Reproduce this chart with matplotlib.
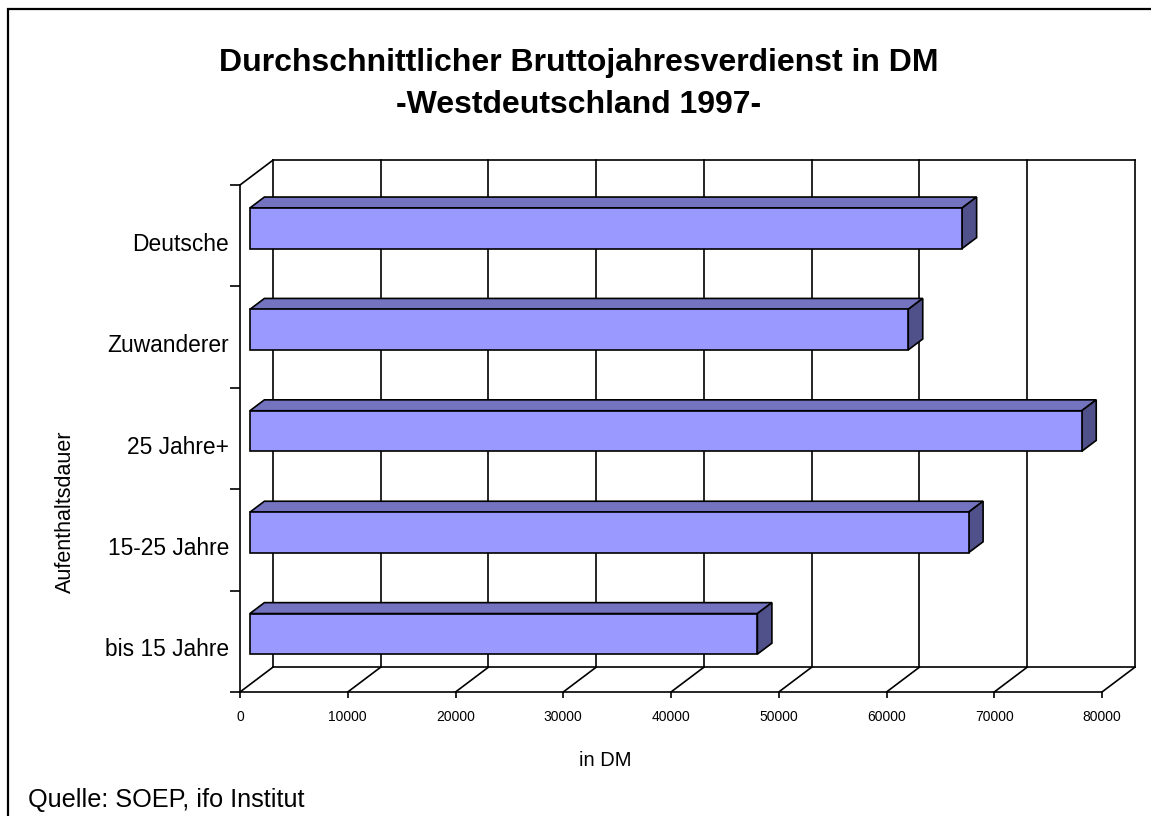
import matplotlib
matplotlib.use("Agg")
import matplotlib.pyplot as plt
from matplotlib.patches import Polygon, Rectangle
from matplotlib.lines import Line2D

plt.rcParams['font.family'] = ['Liberation Sans', 'DejaVu Sans']

# ---- data ----
categories = ["bis 15 Jahre", "15-25 Jahre", "25 Jahre+", "Zuwanderer", "Deutsche"]
values = [47100, 66700, 77200, 61100, 66100]
x_ticks = [0, 10000, 20000, 30000, 40000, 50000, 60000, 70000, 80000]
title = "Durchschnittlicher Bruttojahresverdienst in DM\n-Westdeutschland 1997-"
x_label = "in DM"
y_label = "Aufenthaltsdauer"
source = "Quelle: SOEP, ifo Institut"

# ---- style / 3D geometry ----
W, H = 1151, 816
fig = plt.figure(figsize=(W / 100, H / 100), dpi=100)
ax = fig.add_axes([240 / W, (H - 692) / H, (1102 - 240) / W, (692 - 185) / H])
ax.set_xlim(x_ticks[0], x_ticks[-1])
ax.set_ylim(0, len(categories))

DX = 3060      # depth offset in x (data units)
DY = 0.245     # depth offset in y (category units)
F0, F1 = 0.30, 0.74   # bar front / back depth fractions
BW = 0.40      # bar thickness
LW = 1.2
front_c = "#9999FF"
top_c = "#7373C0"
side_c = "#50508A"

xmax = x_ticks[-1]
ny = len(categories)

# back wall + floor lines
for t in x_ticks:
    ax.add_line(Line2D([t + DX, t + DX], [DY, ny + DY], color="black", lw=LW, clip_on=False, zorder=1))
    ax.add_line(Line2D([t, t + DX], [0, DY], color="black", lw=LW, clip_on=False, zorder=1))
ax.add_line(Line2D([DX, xmax + DX], [ny + DY, ny + DY], color="black", lw=LW, clip_on=False, zorder=1))
ax.add_line(Line2D([DX, xmax + DX], [DY, DY], color="black", lw=LW, clip_on=False, zorder=1))
ax.add_line(Line2D([0, DX], [ny, ny + DY], color="black", lw=LW, clip_on=False, zorder=1))

# bars
d = F1 - F0
for i, v in enumerate(values):
    x0 = F0 * DX
    y0 = i + 0.5 - BW / 2 + F0 * DY
    y1 = y0 + BW
    top = Polygon([(x0, y1), (x0 + v, y1), (x0 + v + d * DX, y1 + d * DY), (x0 + d * DX, y1 + d * DY)],
                  closed=True, facecolor=top_c, edgecolor="black", lw=LW, clip_on=False, zorder=3)
    side = Polygon([(x0 + v, y0), (x0 + v + d * DX, y0 + d * DY), (x0 + v + d * DX, y1 + d * DY), (x0 + v, y1)],
                   closed=True, facecolor=side_c, edgecolor="black", lw=LW, clip_on=False, zorder=3)
    front = Rectangle((x0, y0), v, BW, facecolor=front_c, edgecolor="black", lw=LW, clip_on=False, zorder=4)
    ax.add_patch(top)
    ax.add_patch(side)
    ax.add_patch(front)

# axes / ticks
for s in ["top", "right"]:
    ax.spines[s].set_visible(False)
for s in ["left", "bottom"]:
    ax.spines[s].set_linewidth(LW)
    ax.spines[s].set_zorder(5)
ax.patch.set_visible(False)

ax.set_xticks(x_ticks)
ax.set_xticklabels([str(t) for t in x_ticks], fontsize=10)
ax.tick_params(axis="x", direction="out", length=4, width=LW, pad=9)

ax.set_yticks(range(ny + 1))
ax.set_yticklabels([])
ax.tick_params(axis="y", which="major", direction="out", length=7, width=LW)
ax.set_yticks([i + 0.44 for i in range(ny)], minor=True)
ax.set_yticklabels(categories, minor=True, fontsize=16.4)
ax.tick_params(axis="y", which="minor", length=0, pad=8)

# texts
fig.text(579 / W, 1 - 84 / H, title, ha="center", va="center", fontsize=23,
         fontweight="bold", linespacing=1.55)
fig.text(605 / W, 1 - 760 / H, x_label, ha="center", va="center", fontsize=14.5)
fig.text(65 / W, 1 - 512 / H, y_label, ha="center", va="center", rotation=90, fontsize=15.5)
fig.text(28 / W, 1 - 800 / H, source, ha="left", va="center", fontsize=18.2)

# frame
fig.add_artist(Rectangle((8 / W, -0.05), 1.1, 1 - 9 / H + 0.05, transform=fig.transFigure,
                         fill=False, edgecolor="black", lw=1.6))

fig.savefig("out.png", dpi=100)
